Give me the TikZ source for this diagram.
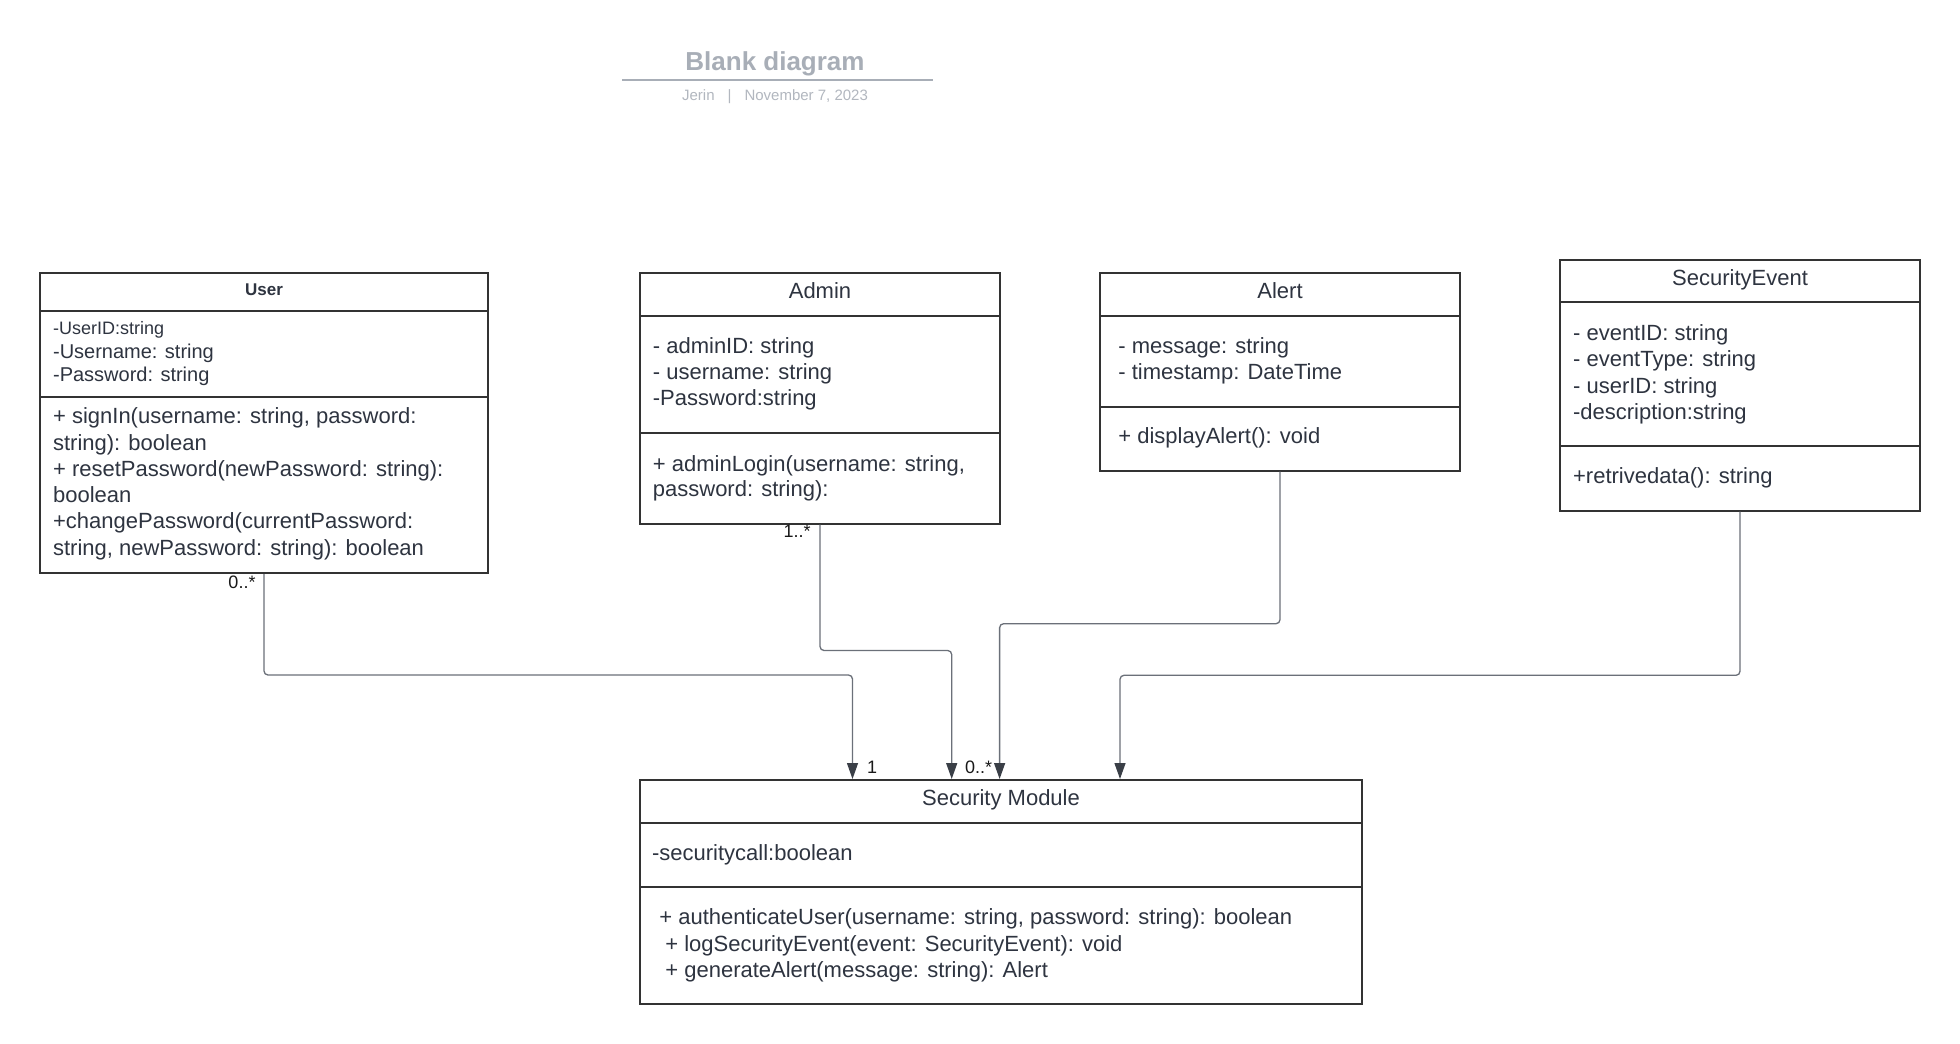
\documentclass[tikz,border=0pt]{standalone}
\usepackage{fontspec}
\setmainfont{Liberation Sans}
\usetikzlibrary{arrows.meta,calc}
\definecolor{boxc}{HTML}{333333}
\definecolor{txtc}{HTML}{2E3440}
\definecolor{linec}{HTML}{6B7079}
\definecolor{tipc}{HTML}{3A3F47}
\definecolor{titlec}{HTML}{A8AEB7}
\definecolor{subc}{HTML}{B2B7BF}
\begin{document}
\begin{tikzpicture}[x=0.5pt,y=-0.5pt,
 classbox/.style={draw=boxc, line width=1pt, fill=white, inner sep=0pt},
 divider/.style={draw=boxc, line width=1pt},
 txt/.style={anchor=west, inner sep=0pt, align=left, text=txtc, yshift=-1.1pt, font=\fontsize{11}{13.15}\selectfont},
 ttl/.style={inner sep=0pt, text=txtc, font=\fontsize{11}{13}\selectfont},
 mult/.style={inner sep=0pt, text=black!90, font=\fontsize{9}{11}\selectfont},
 conn/.style={draw=linec, line width=0.65pt, rounded corners=2pt, -{Triangle[length=8pt,width=5.5pt,color=tipc]}}
]
\useasboundingbox[fill=white] (0,0) rectangle (1960,1044);

% title block
\node[inner sep=0pt, text=titlec, font=\bfseries\fontsize{13}{15}\selectfont] (title) at (775,64) {Blank diagram};
\coordinate (tl) at (622,80);
\coordinate (tr) at (933,80);
\draw[draw=titlec, line width=0.85pt] (tl) -- (tr);
\node[inner sep=0pt, text=subc, font=\fontsize{7.5}{9}\selectfont] (sub) at (775,96.7) {Jerin\hspace{6.5pt}|\hspace{6.5pt}November 7, 2023};

% User
\node[classbox, minimum width=224pt, minimum height=150pt] (user) at (264,423) {};
\draw[divider] (user.west |- 0,311) -- (user.east |- 0,311);
\draw[divider] (user.west |- 0,397) -- (user.east |- 0,397);
\node[inner sep=0pt, text=txtc, font=\bfseries\fontsize{8.5}{10}\selectfont] (userT) at (264,290) {User};
\node[txt, font=\fontsize{9}{11}\selectfont] (userA1) at (52.7,327.7) {-UserID:string};
\node[txt, font=\fontsize{10}{12}\selectfont] (userA2) at (52.7,350.7) {-Username: string};
\node[txt, font=\fontsize{10}{12}\selectfont] (userA3) at (52.7,374) {-Password: string};
\node[txt, font=\fontsize{11}{13.13}\selectfont] (userM) at (52.7,481.7) {+ signIn(username: string, password:\\string): boolean\\+ resetPassword(newPassword: string):\\boolean\\+changePassword(currentPassword:\\string, newPassword: string): boolean};

% Admin
\node[classbox, minimum width=180pt, minimum height=125.5pt] (admin) at (820,398.2) {};
\draw[divider] (admin.west |- 0,315.7) -- (admin.east |- 0,315.7);
\draw[divider] (admin.west |- 0,433.3) -- (admin.east |- 0,433.3);
\node[ttl] (adminT) at (820,291) {Admin};
\node[txt, font=\fontsize{11}{12.83}\selectfont] (adminA) at (652.5,371.7) {- adminID: string\\- username: string\\-Password:string};
\node[txt, font=\fontsize{11}{12.66}\selectfont] (adminM) at (652.5,476.4) {+ adminLogin(username: string,\\password: string):};

% Alert
\node[classbox, minimum width=180pt, minimum height=99pt] (alert) at (1280,371.7) {};
\draw[divider] (alert.west |- 0,315.7) -- (alert.east |- 0,315.7);
\draw[divider] (alert.west |- 0,406.7) -- (alert.east |- 0,406.7);
\node[ttl] (alertT) at (1280,291) {Alert};
\node[txt, font=\fontsize{11}{12.85}\selectfont] (alertA) at (1118,358.8) {- message: string\\- timestamp: DateTime};
\node[txt] (alertM) at (1118,436) {+ displayAlert(): void};

% SecurityEvent
\node[classbox, minimum width=180pt, minimum height=125.25pt] (se) at (1740,385.25) {};
\draw[divider] (se.west |- 0,302) -- (se.east |- 0,302);
\draw[divider] (se.west |- 0,446) -- (se.east |- 0,446);
\node[ttl] (seT) at (1740,279.5) {SecurityEvent};
\node[txt, font=\fontsize{11}{13.17}\selectfont] (seA) at (1572.7,372.2) {- eventID: string\\- eventType: string\\- userID: string\\-description:string};
\node[txt] (seM) at (1572.7,475.7) {+retrivedata(): string};

% Security Module
\node[classbox, minimum width=361pt, minimum height=112pt] (sm) at (1001,892) {};
\draw[divider] (sm.west |- 0,822.7) -- (sm.east |- 0,822.7);
\draw[divider] (sm.west |- 0,886.7) -- (sm.east |- 0,886.7);
\node[ttl] (smT) at (1001,800.3) {Security Module};
\node[txt] (smA) at (651.7,852.7) {-securitycall:boolean};
\node[txt, font=\fontsize{11}{13.33}\selectfont] (smM) at (659,943.3) {+ authenticateUser(username: string, password: string): boolean\\\hspace*{3pt}+ logSecurityEvent(event: SecurityEvent): void\\\hspace*{3pt}+ generateAlert(message: string): Alert};

% connector end points on Security Module
\coordinate (inU) at ($(sm.north west)+(213.5,0)$);
\coordinate (inAd) at ($(sm.north west)+(312.7,0)$);
\coordinate (inAl) at ($(sm.north west)+(360.6,0)$);
\coordinate (inSE) at ($(sm.north west)+(481,0)$);

\draw[conn] (user.south) |- ($(inU)+(0,-104)$) -- (inU);
\draw[conn] (admin.south) |- ($(inAd)+(0,-128.5)$) -- (inAd);
\draw[conn] (alert.south) |- ($(inAl)+(0,-155.3)$) -- (inAl);
\draw[conn] (se.south) |- ($(inSE)+(0,-103.7)$) -- (inSE);

% multiplicities
\node[mult] (mU1) at (242,582) {0..*};
\node[mult] (mU2) at (872,767) {1};
\node[mult] (mA1) at (797,531) {1..*};
\node[mult] (mA2) at (978.7,767) {0..*};
\end{tikzpicture}
\end{document}
